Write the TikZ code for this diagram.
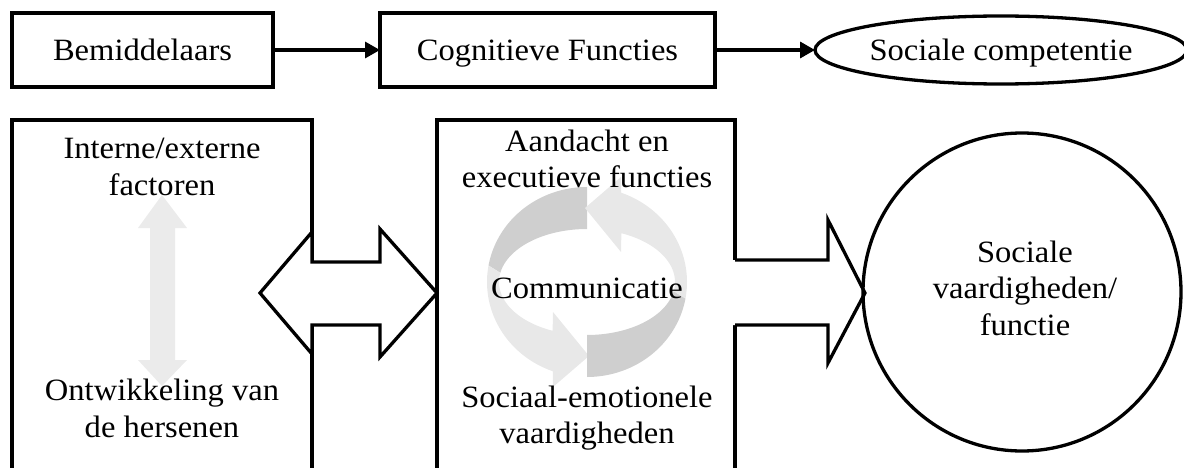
\documentclass[tikz,border=0pt]{standalone}
\usepackage{fontspec}
\setmainfont{Liberation Serif}[FakeStretch=1.05]
\usetikzlibrary{arrows.meta,shapes.geometric}
\tikzset{
  box/.style={draw, rectangle, line width=3.3pt, inner sep=0pt, outer sep=0pt},
  toptext/.style={text height=20.5pt, text depth=0pt},
  lbl/.style={anchor=base, inner sep=0pt, outer sep=0pt},
  conn/.style={line width=3.3pt, -{Triangle[length=15pt,width=16pt]}},
  ringdark/.style={fill=black!19},
  ringlight/.style={fill=black!9},
  vlight/.style={fill=black!8},
  bigarrow/.style={draw=black, line width=3.3pt, line join=miter},
}
\begin{document}
\begin{tikzpicture}[x=1pt, y=-1pt, line width=3.3pt, font=\fontsize{31pt}{36pt}\selectfont]
\useasboundingbox (0,0) rectangle (1184,468);
\clip (0,0) rectangle (1184,468);

% top row
\node[box, toptext, minimum width=261pt, minimum height=74pt] (b1) at (142.5,50) {Bemiddelaars};
\node[box, toptext, minimum width=335pt, minimum height=74pt] (b2) at (547.5,50) {Cognitieve Functies};
\node[draw, ellipse, toptext, line width=3.3pt, inner sep=0pt, outer sep=0pt, minimum width=358pt, minimum height=68pt] (sc) at (1001,50) {Sociale competentie};
\draw[conn] (b1.east) -- (b2.west);
\draw[conn] (b2.east) -- (sc.west);

% bottom boxes
\node[box, anchor=north, minimum width=300pt, minimum height=400pt] (lb) at (162,120) {};
\node[box, anchor=north, minimum width=298pt, minimum height=400pt] (mb) at (586,120) {};

% light vertical double arrow
\fill[vlight] (162,195) -- (187,228) -- (175,228) -- (175,360) -- (187,360) -- (162,386)
  -- (138,360) -- (150,360) -- (150,228) -- (138,228) -- cycle;

% circular arrows
\fill[ringdark] plot[domain=90:170, samples=40] ({587+100*cos(\x)},{282-95*sin(\x)})
  -- plot[domain=170:90, samples=40] ({587+88*cos(\x)},{282-53*sin(\x)}) -- cycle;
\fill[ringlight] plot[domain=170:250, samples=40] ({587+100*cos(\x)},{282-95*sin(\x)})
  -- (553,387) -- (589,356) -- (553,312)
  -- plot[domain=247:170, samples=40] ({587+88*cos(\x)},{282-53*sin(\x)}) -- cycle;
\fill[ringdark] plot[domain=270:350, samples=40] ({587+100*cos(\x)},{282-95*sin(\x)})
  -- plot[domain=350:270, samples=40] ({587+88*cos(\x)},{282-53*sin(\x)}) -- cycle;
\fill[ringlight] plot[domain=350:430, samples=40] ({587+100*cos(\x)},{282-95*sin(\x)})
  -- (621,177) -- (585,208) -- (621,252)
  -- plot[domain=427:350, samples=40] ({587+88*cos(\x)},{282-53*sin(\x)}) -- cycle;

% double block arrow between left and middle box
\draw[bigarrow, fill=white] (312,232) -- (260,293) -- (312,354) -- (312,325) -- (380,325)
  -- (380,357) -- (437,293) -- (380,229) -- (380,262) -- (312,262) -- cycle;

% block arrow from middle box to circle
\fill[white] (730,260) -- (828,260) -- (828,220) -- (865,293) -- (828,363) -- (828,325) -- (730,325) -- cycle;
\draw[bigarrow] (735,260) -- (828,260) -- (828,220) -- (865,293) -- (828,363) -- (828,325) -- (735,325);

% circle
\node[draw, circle, line width=3.3pt, inner sep=0pt, minimum size=318pt] (sv) at (1022,292) {};

% texts
\node[lbl] (t1) at (162,159) {Interne/externe};
\node[lbl] (t2) at (162,196) {factoren};
\node[lbl] (t3) at (162,400) {Ontwikkeling van};
\node[lbl] (t4) at (162,437) {de hersenen};
\node[lbl] (t5) at (587,152) {Aandacht en};
\node[lbl] (t6) at (587,187) {executieve functies};
\node[lbl] (t7) at (587,298) {Communicatie};
\node[lbl] (t8) at (587,407) {Sociaal-emotionele};
\node[lbl] (t9) at (587,443) {vaardigheden};
\node[lbl] (t10) at (1025,262) {Sociale};
\node[lbl] (t11) at (1025,298) {vaardigheden/};
\node[lbl] (t12) at (1025,335) {functie};
\end{tikzpicture}
\end{document}
